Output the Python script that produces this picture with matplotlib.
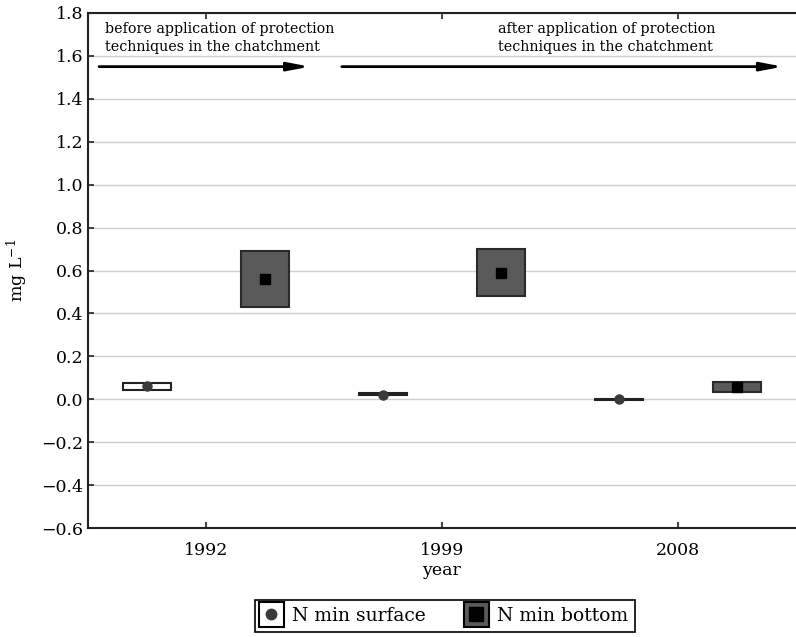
import matplotlib
matplotlib.use("Agg")
import matplotlib.pyplot as plt
from matplotlib.lines import Line2D
from matplotlib.legend_handler import HandlerTuple
import numpy as np

plt.rcParams['font.family'] = ['DejaVu Serif']
plt.rcParams['mathtext.fontset'] = 'dejavuserif'

# data
years = ['1992', '1999', '2008']
surface_lo = [0.042, 0.018, -0.003]
surface_hi = [0.075, 0.027, 0.003]
surface_mean = [0.06, 0.022, 0.0]
bottom_lo = [0.43, 0.48, 0.034]
bottom_hi = [0.69, 0.70, 0.080]
bottom_mean = [0.56, 0.587, 0.058]

x = np.arange(len(years))
off = 0.25
w = 0.205

fig = plt.figure(figsize=(7.96, 6.37), dpi=100)
ax = fig.add_axes([0.1106, 0.1711, 0.889, 0.8085])

ax.bar(x - off, np.array(surface_hi) - np.array(surface_lo), bottom=surface_lo, width=w,
       color='white', edgecolor='#222222', linewidth=1.5, zorder=3)
ax.bar(x + off, np.array(bottom_hi) - np.array(bottom_lo), bottom=bottom_lo, width=w,
       color='#5a5a5a', edgecolor='#2a2a2a', linewidth=1.5, zorder=3)
ax.plot(x - off, surface_mean, linestyle='none', marker='o', ms=6.5, color='#3a3a3a', zorder=4)
ax.plot(x + off, bottom_mean, linestyle='none', marker='s', ms=7, color='black', zorder=4)

ax.set_xlim(-0.5, 2.5)
ax.set_ylim(-0.6, 1.8)
ax.set_yticks(np.arange(-0.6, 1.81, 0.2))
ax.set_yticklabels([f'{v:.1f}'.replace('-', '\u2212') for v in np.arange(-0.6, 1.81, 0.2)])
ax.set_xticks(x)
ax.set_xticklabels(years)
ax.tick_params(axis='both', direction='in', length=4, width=1.2, labelsize=12.5,
               top=True, color='#222222')
ax.tick_params(axis='x', pad=10)
ax.grid(axis='y', color='#cfcfcf', linewidth=1, zorder=0)
ax.set_axisbelow(True)
for s in ['left', 'bottom', 'top']:
    ax.spines[s].set_linewidth(1.5)
    ax.spines[s].set_color('#222222')
ax.spines['right'].set_visible(False)

ax.set_xlabel('year', fontsize=12.5, labelpad=2)
ax.set_ylabel('mg L$^{-1}$', fontsize=12.5, labelpad=8)

# period arrows and notes
arrow = dict(arrowstyle='-|>,head_length=1.3,head_width=0.25', color='black', lw=2,
             shrinkA=0, shrinkB=0)
ax.annotate('', xy=(0.44, 1.55), xytext=(-0.453, 1.55), arrowprops=arrow)
ax.annotate('', xy=(2.445, 1.55), xytext=(0.576, 1.55), arrowprops=arrow)
ax.text(-0.428, 1.758, 'before application of protection\ntechniques in the chatchment',
        fontsize=10.3, va='top', ha='left', linespacing=1.4)
ax.text(1.237, 1.758, 'after application of protection\ntechniques in the chatchment',
        fontsize=10.3, va='top', ha='left', linespacing=1.4)

h_surf = (Line2D([], [], linestyle='none', marker='s', ms=18, mfc='white', mec='black', mew=1.5),
          Line2D([], [], linestyle='none', marker='o', ms=7.5, color='#3a3a3a'))
h_bot = (Line2D([], [], linestyle='none', marker='s', ms=18, mfc='#5a5a5a', mec='black', mew=1.5),
         Line2D([], [], linestyle='none', marker='s', ms=10, color='black'))
leg = fig.legend([h_surf, h_bot], ['N min surface', 'N min bottom'],
                 handler_map={tuple: HandlerTuple(ndivide=1)},
                 loc='center', bbox_to_anchor=(0.559, 0.033), ncol=2, fontsize=13.5,
                 frameon=True, fancybox=False, edgecolor='black', framealpha=1,
                 handlelength=1.0, handletextpad=0.6, columnspacing=2.2, borderpad=0.35,
                 borderaxespad=0.2)
leg.get_frame().set_linewidth(1.2)

fig.savefig('out.png', dpi=100)
